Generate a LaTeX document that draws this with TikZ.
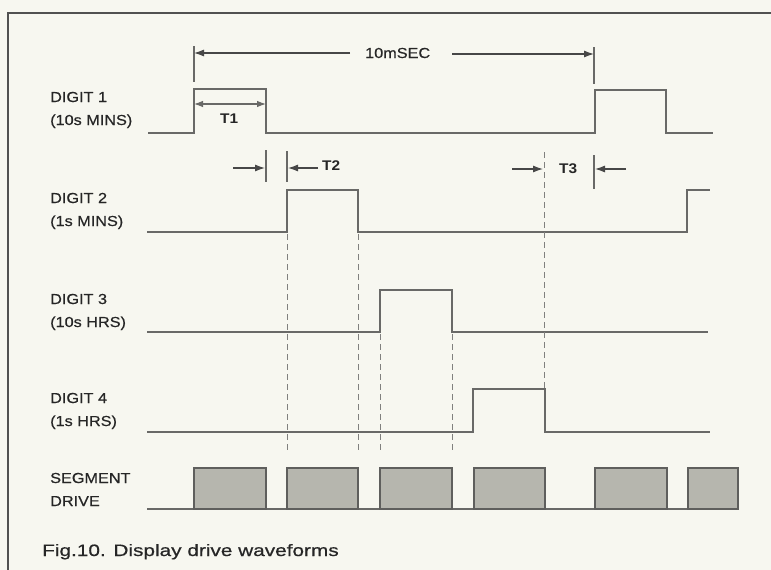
\documentclass[tikz,border=0pt]{standalone}
\usepackage{fontspec}
\setmainfont{Liberation Sans}
\newfontfamily\labfont[FakeStretch=1.12,FakeBold=0.5]{Liberation Sans}
\newfontfamily\tfont[FakeStretch=1.1]{Liberation Sans}
\newfontfamily\capfont[FakeStretch=1.26,FakeBold=0.6]{Liberation Sans}
\usetikzlibrary{arrows.meta}
\definecolor{bg}{RGB}{247,247,240}
\definecolor{wave}{RGB}{105,105,103}
\definecolor{ink}{RGB}{38,38,38}
\definecolor{boxfill}{RGB}{182,182,174}
\definecolor{boxedge}{RGB}{95,95,93}
\tikzset{
  wv/.style={draw=wave, line width=1.4pt, line join=miter},
  dsh/.style={draw=wave!85, line width=1pt, dash pattern=on 6pt off 4pt},
  tick/.style={draw=wave, line width=1.3pt},
  arr/.style={draw=ink!85, line width=1.1pt, -{Latex[length=10pt,width=7pt]}},
  darr/.style={draw=wave, line width=1.1pt, {Latex[length=9pt,width=6.5pt]}-{Latex[length=9pt,width=6.5pt]}},
  segbox/.style={fill=boxfill, draw=boxedge, line width=1.2pt},
  lab/.style={anchor=base west, inner sep=0pt, text=ink, font=\labfont\fontsize{14.5}{17}\selectfont},
  tlab/.style={anchor=base west, inner sep=0pt, text=ink, font=\tfont\bfseries\fontsize{14}{16}\selectfont},
}
\begin{document}
\begin{tikzpicture}[x=1pt,y=-1pt]
\useasboundingbox (0,0) rectangle (771,570);
\fill[bg] (-2,-2) rectangle (773,572);
% frame
\draw[draw=ink!80, line width=1.7pt] (8,572) -- (8,13) -- (773,13);

% labels
\node[lab] (d1a) at (50,102) {DIGIT 1};
\node[lab] (d1b) at (50,125) {(10s MINS)};
\node[lab] (d2a) at (50,203) {DIGIT 2};
\node[lab] (d2b) at (50,226) {(1s MINS)};
\node[lab] (d3a) at (50,304) {DIGIT 3};
\node[lab] (d3b) at (50,327) {(10s HRS)};
\node[lab] (d4a) at (50,403) {DIGIT 4};
\node[lab] (d4b) at (50,426) {(1s HRS)};
\node[lab] (sa) at (50,483) {SEGMENT};
\node[lab] (sb) at (50,506) {DRIVE};
\node[anchor=base west, inner sep=0pt, text=ink, font=\capfont\fontsize{16.5}{19}\selectfont] (cap) at (42,556) {Fig.10. Display drive waveforms};

% waveforms
\draw[wv] (148,133) -- (194,133) -- (194,89) -- (266,89) -- (266,133) -- (595,133) -- (595,90) -- (666,90) -- (666,133) -- (713,133);
\draw[wv] (147,232) -- (287,232) -- (287,190) -- (358,190) -- (358,232) -- (687,232) -- (687,190) -- (710,190);
\draw[wv] (147,332) -- (380,332) -- (380,290) -- (452,290) -- (452,332) -- (708,332);
\draw[wv] (147,432) -- (473,432) -- (473,389) -- (545,389) -- (545,432) -- (710,432);
\draw[wv] (147,509) -- (738,509);

% segment boxes
\foreach \a/\b in {194/266, 287/358, 380/452, 474/545, 595/667, 688/738}
  \draw[segbox] (\a,468) rectangle (\b,509);

% dashed verticals
\draw[dsh] (287,234) -- (287,452);
\draw[dsh] (358,234) -- (358,452);
\draw[dsh] (380,334) -- (380,452);
\draw[dsh] (452,334) -- (452,452);
\draw[dsh] (544,152) -- (544,389);

% 10 mSEC
\coordinate (tl) at (194,53);
\coordinate (tr) at (594,54);
\draw[tick] (194,46) -- (194,82);
\draw[tick] (594,47) -- (594,84);
\node[lab] (ten) at (365,58) {10mSEC};
\draw[arr] (ten.west |- tl) ++(-15,0) coordinate (tla) -- (tl);
\draw[arr] (ten.east |- tr) ++(22,0) coordinate (tra) -- (tr);

% T1
\coordinate (t1l) at (194,104);
\coordinate (t1r) at (266,104);
\draw[darr] (t1l) -- (t1r);
\node[tlab] (t1) at (220,123) {T1};

% T2
\draw[tick] (266,150) -- (266,182);
\draw[tick] (287,151) -- (287,182);
\coordinate (t2a) at (233,168);
\coordinate (t2b) at (265,168);
\coordinate (t2c) at (318,168);
\coordinate (t2d) at (288,168);
\draw[arr] (t2a) -- (t2b);
\draw[arr] (t2c) -- (t2d);
\node[tlab] (t2) at (322,170) {T2};

% T3
\draw[tick] (594,155) -- (594,189);
\coordinate (t3a) at (512,169);
\coordinate (t3b) at (543,169);
\coordinate (t3c) at (626,169);
\coordinate (t3d) at (595,169);
\draw[arr] (t3a) -- (t3b);
\draw[arr] (t3c) -- (t3d);
\node[tlab] (t3) at (559,173) {T3};
\end{tikzpicture}
\end{document}
